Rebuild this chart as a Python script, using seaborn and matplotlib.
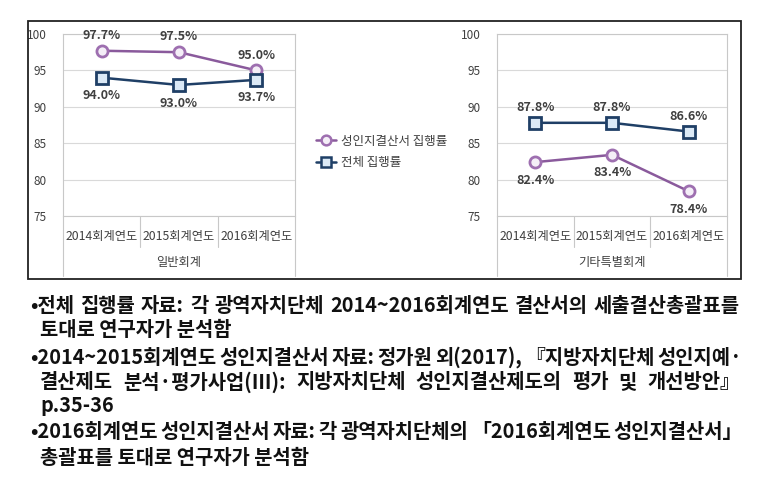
import numpy as np
import pandas as pd
import seaborn as sns
import matplotlib.pyplot as plt
from matplotlib.lines import Line2D
from matplotlib.patches import Rectangle

years = ["2014회계연도", "2015회계연도", "2016회계연도"]
series_names = ["성인지결산서 집행률", "전체 집행률"]
general_gender = [97.7, 97.5, 95.0]
general_total = [94.0, 93.0, 93.7]
special_gender = [82.4, 83.4, 78.4]
special_total = [87.8, 87.8, 86.6]
panel_titles = ["일반회계", "기타특별회계"]
y_ticks = [75, 80, 85, 90, 95, 100]

# (text, indented, justified)
notes = [
    ("•전체 집행률 자료: 각 광역자치단체 2014~2016회계연도 결산서의 세출결산총괄표를", False, True),
    ("토대로 연구자가 분석함", True, False),
    ("•2014~2015회계연도 성인지결산서 자료: 정가원 외(2017), 『지방자치단체 성인지예·", False, True),
    ("결산제도 분석·평가사업(Ⅲ): 지방자치단체 성인지결산제도의 평가 및 개선방안』", True, True),
    ("p.35-36", True, False),
    ("•2016회계연도 성인지결산서 자료: 각 광역자치단체의 「2016회계연도 성인지결산서」", False, True),
    ("총괄표를 토대로 연구자가 분석함", True, False),
]

sns.set_style("white")
plt.rcParams["font.family"] = ["Noto Sans CJK KR", "DejaVu Sans"]

PURPLE = "#8a5a9c"
NAVY = "#1f3f66"
TXT = "#404040"

W, H = 779, 482
fig = plt.figure(figsize=(W / 100, H / 100), dpi=100)


def px_axes(x0, y0, x1, y1):
    return fig.add_axes([x0 / W, 1 - y1 / H, (x1 - x0) / W, (y1 - y0) / H])


# outer frame
fig.patches.append(Rectangle((28 / W, 1 - 279 / H), 713 / W, 258 / H,
                             transform=fig.transFigure, fill=False,
                             edgecolor="#222222", lw=1.3))

panels = [
    (px_axes(63, 34, 295, 216), general_gender, general_total, ["above", "below"]),
    (px_axes(497, 34, 727, 216), special_gender, special_total, ["below", "above"]),
]

for i, (ax, g_vals, t_vals, pos) in enumerate(panels):
    df = pd.DataFrame({
        "year": years * 2,
        "series": [series_names[0]] * 3 + [series_names[1]] * 3,
        "value": g_vals + t_vals,
    })
    sns.lineplot(data=df, x="year", y="value", hue="series", style="series",
                 palette=[PURPLE, NAVY], markers=["o", "s"], dashes=False,
                 lw=1.8, ms=8, markeredgewidth=2, ax=ax, legend=False)
    ax.lines[0].set_markerfacecolor("#f4eef7")
    ax.lines[0].set_markeredgecolor("#9e6fb0")
    ax.lines[1].set_markerfacecolor("#dbe9f6")
    ax.lines[1].set_markeredgecolor(NAVY)

    ax.set_ylim(75, 100)
    ax.set_xlim(-0.5, 2.5)
    ax.set_yticks(y_ticks)
    ax.set_yticklabels([str(t) for t in y_ticks], fontsize=8.5, color=TXT)
    ax.tick_params(axis="y", length=0, pad=12)
    ax.set_xticks([])
    ax.set_xlabel("")
    ax.set_ylabel("")
    ax.grid(axis="y", color="#d9d9d9", lw=0.8)
    for s in ax.spines.values():
        s.set_color("#c8c8c8")
        s.set_linewidth(0.8)

    for vals, p in zip([g_vals, t_vals], pos):
        for x, v in enumerate(vals):
            off = 11 if p == "above" else -13
            ax.annotate(f"{v:.1f}%", (x, v), xytext=(0, off),
                        textcoords="offset points", ha="center", va="center",
                        fontsize=9, color=TXT, fontweight="bold")

    # category separators and labels below the plot
    trans = ax.get_xaxis_transform()
    for xs, y_end in [(-0.5, -0.33), (0.5, -0.17), (1.5, -0.17), (2.5, -0.33)]:
        ax.add_line(Line2D([xs, xs], [0, y_end], transform=trans,
                           color="#c8c8c8", lw=0.8, clip_on=False))
    for x, lab in enumerate(years):
        ax.text(x, -0.115, lab, transform=trans, ha="center", va="center",
                fontsize=8.8, color=TXT)
    ax.text(1, -0.255, panel_titles[i], transform=trans, ha="center",
            va="center", fontsize=8.8, color=TXT)

handles = [
    Line2D([], [], color=PURPLE, lw=1.8, marker="o", ms=7, mew=1.8,
           mfc="#f4eef7", mec="#9e6fb0"),
    Line2D([], [], color=NAVY, lw=1.8, marker="s", ms=7, mew=1.8,
           mfc="#dbe9f6", mec=NAVY),
]
fig.legend(handles, series_names, loc="center left",
           bbox_to_anchor=(305 / W, 1 - 152 / H), frameon=False, fontsize=9,
           labelcolor=TXT, handlelength=1.6, handletextpad=0.4,
           labelspacing=0.7)

# footnotes, justified like the source document
renderer = fig.canvas.get_renderer()
line_y = [305, 330, 357, 382, 406, 432, 457]
note_kw = dict(ha="left", va="center", fontsize=14.3, color="#111111",
               fontweight="bold")
x_right = 740
for (txt, indent, justify), y in zip(notes, line_y):
    x_left = 40 if indent else 30
    yf = 1 - y / H
    if not justify:
        fig.text(x_left / W, yf, txt, **note_kw)
        continue
    words = txt.split(" ")
    arts = [fig.text(0, yf, w, **note_kw) for w in words]
    widths = [a.get_window_extent(renderer).width for a in arts]
    gap = max((x_right - x_left - sum(widths)) / (len(words) - 1), 3)
    x = x_left
    for a, w in zip(arts, widths):
        a.set_x(x / W)
        x += w + gap

fig.savefig("out.png", dpi=100)
